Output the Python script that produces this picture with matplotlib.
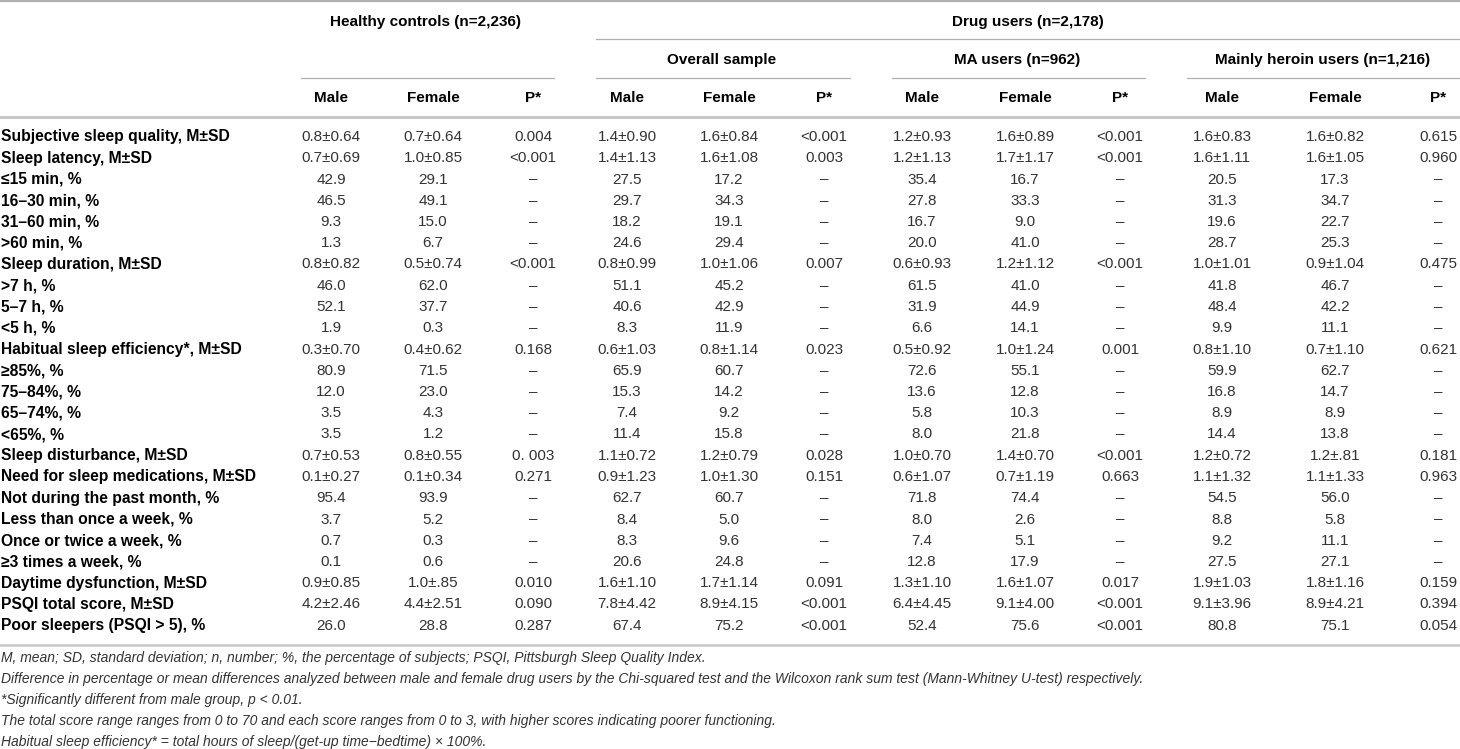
import matplotlib
matplotlib.use("Agg")
import matplotlib.pyplot as plt

plt.rcParams["font.family"] = ["Liberation Sans", "DejaVu Sans"]

# --- data ---
row_labels = [
    "Subjective sleep quality, M±SD", "Sleep latency, M±SD", "≤15 min, %", "16–30 min, %",
    "31–60 min, %", ">60 min, %", "Sleep duration, M±SD", ">7 h, %", "5–7 h, %", "<5 h, %",
    "Habitual sleep efficiency*, M±SD", "≥85%, %", "75–84%, %", "65–74%, %", "<65%, %",
    "Sleep disturbance, M±SD", "Need for sleep medications, M±SD", "Not during the past month, %",
    "Less than once a week, %", "Once or twice a week, %", "≥3 times a week, %",
    "Daytime dysfunction, M±SD", "PSQI total score, M±SD", "Poor sleepers (PSQI > 5), %",
]

hc_male = ["0.8±0.64", "0.7±0.69", "42.9", "46.5", "9.3", "1.3", "0.8±0.82", "46.0", "52.1", "1.9",
           "0.3±0.70", "80.9", "12.0", "3.5", "3.5", "0.7±0.53", "0.1±0.27", "95.4", "3.7", "0.7",
           "0.1", "0.9±0.85", "4.2±2.46", "26.0"]
hc_female = ["0.7±0.64", "1.0±0.85", "29.1", "49.1", "15.0", "6.7", "0.5±0.74", "62.0", "37.7", "0.3",
             "0.4±0.62", "71.5", "23.0", "4.3", "1.2", "0.8±0.55", "0.1±0.34", "93.9", "5.2", "0.3",
             "0.6", "1.0±.85", "4.4±2.51", "28.8"]
hc_p = ["0.004", "<0.001", "–", "–", "–", "–", "<0.001", "–", "–", "–",
        "0.168", "–", "–", "–", "–", "0. 003", "0.271", "–", "–", "–",
        "–", "0.010", "0.090", "0.287"]

ov_male = ["1.4±0.90", "1.4±1.13", "27.5", "29.7", "18.2", "24.6", "0.8±0.99", "51.1", "40.6", "8.3",
           "0.6±1.03", "65.9", "15.3", "7.4", "11.4", "1.1±0.72", "0.9±1.23", "62.7", "8.4", "8.3",
           "20.6", "1.6±1.10", "7.8±4.42", "67.4"]
ov_female = ["1.6±0.84", "1.6±1.08", "17.2", "34.3", "19.1", "29.4", "1.0±1.06", "45.2", "42.9", "11.9",
             "0.8±1.14", "60.7", "14.2", "9.2", "15.8", "1.2±0.79", "1.0±1.30", "60.7", "5.0", "9.6",
             "24.8", "1.7±1.14", "8.9±4.15", "75.2"]
ov_p = ["<0.001", "0.003", "–", "–", "–", "–", "0.007", "–", "–", "–",
        "0.023", "–", "–", "–", "–", "0.028", "0.151", "–", "–", "–",
        "–", "0.091", "<0.001", "<0.001"]

ma_male = ["1.2±0.93", "1.2±1.13", "35.4", "27.8", "16.7", "20.0", "0.6±0.93", "61.5", "31.9", "6.6",
           "0.5±0.92", "72.6", "13.6", "5.8", "8.0", "1.0±0.70", "0.6±1.07", "71.8", "8.0", "7.4",
           "12.8", "1.3±1.10", "6.4±4.45", "52.4"]
ma_female = ["1.6±0.89", "1.7±1.17", "16.7", "33.3", "9.0", "41.0", "1.2±1.12", "41.0", "44.9", "14.1",
             "1.0±1.24", "55.1", "12.8", "10.3", "21.8", "1.4±0.70", "0.7±1.19", "74.4", "2.6", "5.1",
             "17.9", "1.6±1.07", "9.1±4.00", "75.6"]
ma_p = ["<0.001", "<0.001", "–", "–", "–", "–", "<0.001", "–", "–", "–",
        "0.001", "–", "–", "–", "–", "<0.001", "0.663", "–", "–", "–",
        "–", "0.017", "<0.001", "<0.001"]

her_male = ["1.6±0.83", "1.6±1.11", "20.5", "31.3", "19.6", "28.7", "1.0±1.01", "41.8", "48.4", "9.9",
            "0.8±1.10", "59.9", "16.8", "8.9", "14.4", "1.2±0.72", "1.1±1.32", "54.5", "8.8", "9.2",
            "27.5", "1.9±1.03", "9.1±3.96", "80.8"]
her_female = ["1.6±0.82", "1.6±1.05", "17.3", "34.7", "22.7", "25.3", "0.9±1.04", "46.7", "42.2", "11.1",
              "0.7±1.10", "62.7", "14.7", "8.9", "13.8", "1.2±.81", "1.1±1.33", "56.0", "5.8", "11.1",
              "27.1", "1.8±1.16", "8.9±4.21", "75.1"]
her_p = ["0.615", "0.960", "–", "–", "–", "–", "0.475", "–", "–", "–",
         "0.621", "–", "–", "–", "–", "0.181", "0.963", "–", "–", "–",
         "–", "0.159", "0.394", "0.054"]

columns = [hc_male, hc_female, hc_p, ov_male, ov_female, ov_p,
           ma_male, ma_female, ma_p, her_male, her_female, her_p]
col_headers = ["Male", "Female", "P*"] * 4

footnotes = [
    "M, mean; SD, standard deviation; n, number; %, the percentage of subjects; PSQI, Pittsburgh Sleep Quality Index.",
    "Difference in percentage or mean differences analyzed between male and female drug users by the Chi-squared test and the Wilcoxon rank sum test (Mann-Whitney U-test) respectively.",
    "*Significantly different from male group, p < 0.01.",
    "The total score range ranges from 0 to 70 and each score ranges from 0 to 3, with higher scores indicating poorer functioning.",
    "Habitual sleep efficiency* = total hours of sleep/(get-up time−bedtime) × 100%.",
]

# --- layout (pixel coords) ---
W, H = 1460, 749
col_x = [331, 433, 533, 627, 729, 824, 922, 1025, 1120, 1222, 1335, 1438]
row_y0, row_dy = 137, 21.25
fs = 11
line_col = "#b0b0b0"
txt_col = "#333333"

fig = plt.figure(figsize=(W / 100, H / 100), dpi=100)
ax = fig.add_axes([0, 0, 1, 1])
ax.set_xlim(0, W)
ax.set_ylim(H, 0)
ax.axis("off")

# rules
ax.plot([0, W], [1, 1], color=line_col, lw=1.6)
ax.plot([596, W], [39, 39], color=line_col, lw=0.9)
for x0, x1 in [(301, 554), (596, 850), (892, 1145), (1187, W)]:
    ax.plot([x0, x1], [78, 78], color=line_col, lw=0.9)
ax.plot([0, W], [117, 117], color="#c8c8c8", lw=2.2)
ax.plot([0, W], [645, 645], color="#c8c8c8", lw=1.8)

# headers
ax.text(426, 22, "Healthy controls (n=2,236)", ha="center", va="center", fontsize=fs, fontweight="bold")
ax.text(1028, 22, "Drug users (n=2,178)", ha="center", va="center", fontsize=fs, fontweight="bold")
for x, t in [(722, "Overall sample"), (1017, "MA users (n=962)"), (1323, "Mainly heroin users (n=1,216)")]:
    ax.text(x, 60, t, ha="center", va="center", fontsize=fs, fontweight="bold")
for x, t in zip(col_x, col_headers):
    ax.text(x, 98, t, ha="center", va="center", fontsize=fs, fontweight="bold")

# body
for i, lab in enumerate(row_labels):
    y = row_y0 + i * row_dy
    ax.text(1, y, lab, ha="left", va="center", fontsize=11.25, fontweight="bold", color="black")
    for x, col in zip(col_x, columns):
        ax.text(x, y, col[i], ha="center", va="center", fontsize=fs, color=txt_col)

# footnotes
for j, note in enumerate(footnotes):
    ax.text(1, 658 + j * 21, note, ha="left", va="center", fontsize=10,
            style="italic", color=txt_col)

fig.savefig("out.png", dpi=100)
